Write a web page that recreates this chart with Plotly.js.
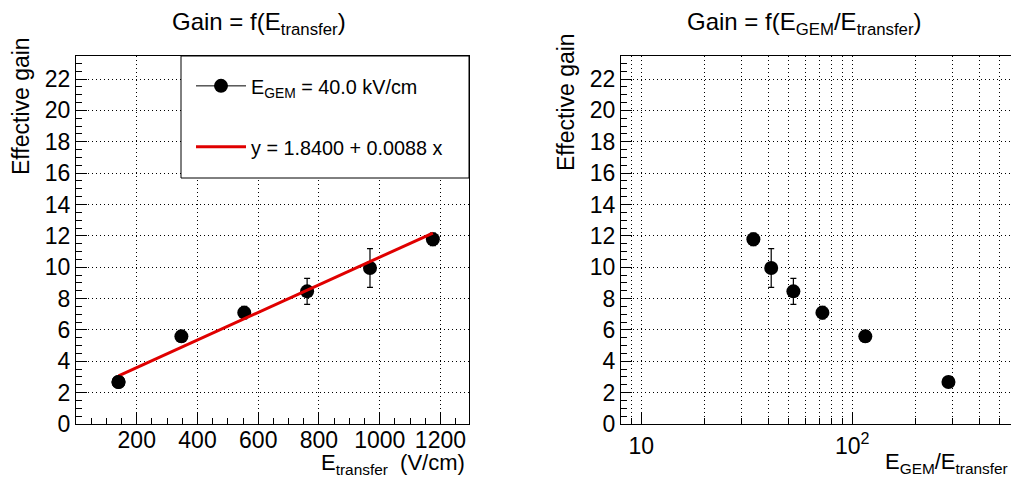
<!DOCTYPE html>
<html><head><meta charset="utf-8">
<script src="https://cdn.plot.ly/plotly-3.0.1.min.js"></script>
<style>html,body{margin:0;padding:0;overflow:hidden;background:#fff}#chart{width:1014px;height:480px}</style>
</head><body><div id="chart"></div>
<script>
// ---- data ----
const eTransfer = [140, 347, 554, 761, 968, 1175];            // V/cm
const ratioGemTransfer = [285.7, 115.3, 72.2, 52.6, 41.3, 34.0];
const gain = [2.68, 5.59, 7.10, 8.46, 9.95, 11.78];
const gainErr = [0.30, 0.35, 0.40, 0.83, 1.24, 0.40];
const fitX = [140, 1175];
const fitY = [3.07, 12.18];
const legendLabels = ['E<sub>GEM</sub> = 40.0 kV/cm', 'y = 1.8400 + 0.0088 x'];
const titles = ['Gain = f(E<sub>transfer</sub>)', 'Gain = f(E<sub>GEM</sub>/E<sub>transfer</sub>)'];
const yTitle = 'Effective gain';
const xTitles = ['E<sub>transfer</sub>  (V/cm)', 'E<sub>GEM</sub>/E<sub>transfer</sub>'];
const xTicksLeft = [200, 400, 600, 800, 1000, 1200];
const yTicks = [0, 2, 4, 6, 8, 10, 12, 14, 16, 18, 20, 22];
const xTicksRight = [10, 100];
const xTickTextRight = ['10', '10<sup>2</sup>'];
const xMinorRight = [9, 20, 30, 40, 50, 60, 70, 80, 90, 200, 300, 400, 500, 600];

// ---- layout helpers ----
const W = 1014, H = 480;
const px = v => v / W;
const py = v => 1 - v / H;
const FONT = 'Liberation Sans, Arial, Helvetica, sans-serif';
const GRID = '1px,3px';

const markerStyle = {color: 'black', size: 14};
const errStyle = {type: 'data', array: gainErr, visible: true, color: 'black', thickness: 1.2, width: 3};

const traces = [
  {x: eTransfer, y: gain, error_y: errStyle, mode: 'markers', marker: markerStyle,
   xaxis: 'x', yaxis: 'y', showlegend: false, hoverinfo: 'x+y'},
  {x: fitX, y: fitY, mode: 'lines', line: {color: '#e00000', width: 3},
   xaxis: 'x', yaxis: 'y', name: legendLabels[1], legend: 'legend2'},
  {x: [eTransfer[0]], y: [gain[0]], mode: 'lines+markers', marker: markerStyle,
   line: {color: 'black', width: 1}, xaxis: 'x', yaxis: 'y', name: legendLabels[0], legend: 'legend'},
  {x: ratioGemTransfer, y: gain, error_y: errStyle, mode: 'markers', marker: markerStyle,
   xaxis: 'x2', yaxis: 'y2', showlegend: false, hoverinfo: 'x+y'}
];

function axisBase() {
  return {
    ticks: 'inside', ticklen: 11, tickwidth: 1, tickcolor: 'black',
    showline: true, mirror: true, linecolor: 'black', linewidth: 1,
    showgrid: true, gridcolor: 'black', gridwidth: 1, griddash: GRID,
    zeroline: false, tickfont: {family: FONT, size: 23, color: 'black'},
    fixedrange: true
  };
}
function yAxis(anchor) {
  return Object.assign(axisBase(), {
    anchor: anchor, domain: [1 - 424 / H, 1 - 56 / H], range: [0, 23.47],
    tickmode: 'array', tickvals: yTicks,
    minor: {tickmode: 'linear', tick0: 0, dtick: 0.5, ticks: 'inside', ticklen: 6, tickcolor: 'black', showgrid: false}
  });
}

const legendFont = {family: FONT, size: 19.8, color: 'black'};

const layout = {
  width: W, height: H,
  margin: {l: 0, r: 0, t: 0, b: 0},
  paper_bgcolor: 'white', plot_bgcolor: 'white',
  font: {family: FONT, color: 'black'},
  showlegend: true,
  xaxis: Object.assign(axisBase(), {
    domain: [px(76), px(469)], range: [0, 1294], anchor: 'y',
    tickmode: 'array', tickvals: xTicksLeft, ticklabelstandoff: -5,
    minor: {tickmode: 'linear', tick0: 0, dtick: 50, ticks: 'inside', ticklen: 6, tickcolor: 'black', showgrid: false}
  }),
  yaxis: yAxis('x'),
  xaxis2: Object.assign(axisBase(), {
    type: 'log', domain: [px(621), 1], range: [Math.log10(8.02), 2.7664], anchor: 'y2',
    tickmode: 'array', tickvals: xTicksRight, ticktext: xTickTextRight, ticklabelstandoff: 1,
    minor: {tickmode: 'array', tickvals: xMinorRight, ticks: 'inside', ticklen: 6, tickcolor: 'black',
            showgrid: true, gridcolor: 'black', gridwidth: 1, griddash: GRID}
  }),
  yaxis2: yAxis('x2'),
  legend: {x: px(191), y: py(86), xanchor: 'left', yanchor: 'middle', bgcolor: 'rgba(0,0,0,0)',
           borderwidth: 0, font: legendFont, itemwidth: 50},
  legend2: {x: px(191), y: py(147), xanchor: 'left', yanchor: 'middle', bgcolor: 'rgba(0,0,0,0)',
            borderwidth: 0, font: legendFont, itemwidth: 50},
  shapes: [
    {type: 'rect', xref: 'paper', yref: 'paper', x0: px(181), x1: px(469), y0: py(178), y1: py(56),
     fillcolor: 'white', line: {color: 'black', width: 1}, layer: 'above'}
  ],
  annotations: [
    {text: titles[0], x: px(259), y: py(6), xref: 'paper', yref: 'paper', xanchor: 'center', yanchor: 'top',
     showarrow: false, font: {family: FONT, size: 24, color: 'black'}},
    {text: titles[1], x: px(804), y: py(6), xref: 'paper', yref: 'paper', xanchor: 'center', yanchor: 'top',
     showarrow: false, font: {family: FONT, size: 24, color: 'black'}},
    {text: yTitle, x: px(21), y: py(35), xref: 'paper', yref: 'paper', xanchor: 'center', yanchor: 'top',
     textangle: -90, showarrow: false, font: {family: FONT, size: 23, color: 'black'}},
    {text: yTitle, x: px(566), y: py(31), xref: 'paper', yref: 'paper', xanchor: 'center', yanchor: 'top',
     textangle: -90, showarrow: false, font: {family: FONT, size: 23, color: 'black'}},
    {text: xTitles[0], x: px(467), y: py(448), xref: 'paper', yref: 'paper', xanchor: 'right', yanchor: 'top',
     showarrow: false, font: {family: FONT, size: 22, color: 'black'}},
    {text: xTitles[1], x: px(1010), y: py(447), xref: 'paper', yref: 'paper', xanchor: 'right', yanchor: 'top',
     showarrow: false, font: {family: FONT, size: 22, color: 'black'}}
  ]
};

Plotly.newPlot('chart', traces, layout, {staticPlot: true, displayModeBar: false});
</script>
</body></html>
